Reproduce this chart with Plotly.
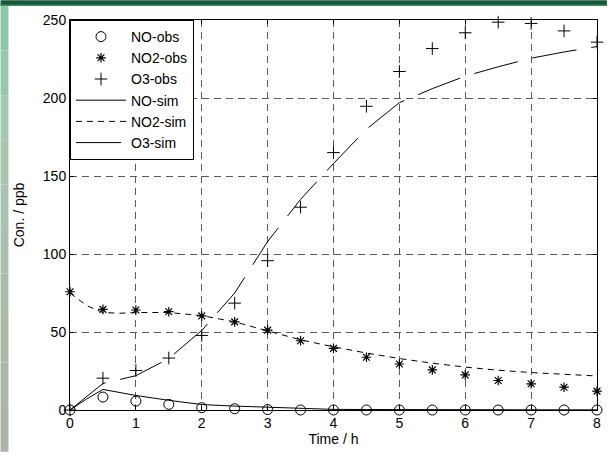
import plotly.graph_objects as go

# ---- data ----
t_obs = [0, 0.5, 1, 1.5, 2, 2.5, 3, 3.5, 4, 4.5, 5, 5.5, 6, 6.5, 7, 7.5, 8]
no_obs = [0, 8.3, 5.7, 3.6, 1.5, 0.8, 0.3, 0, 0, 0, 0, 0, 0, 0, 0, 0, 0]
no2_obs = [75.8, 64.5, 64.1, 63.0, 60.3, 56.5, 51.2, 44.4, 39.5, 33.8, 29.5, 25.7, 22.5, 18.9, 16.8, 14.6, 12.1]
o3_obs = [0, 20.4, 25.3, 33.3, 47.8, 68.5, 95.7, 130, 165, 194.7, 217, 231.7, 241.8, 248.6, 247.8, 243, 235.8]

t_sim = [0, 0.25, 0.5, 0.75, 1, 1.5, 2, 2.5, 3, 3.5, 4, 4.5, 5, 5.5, 6, 6.5, 7, 7.5, 8]
no_sim = [0, 7, 13.2, 11.2, 9.3, 6.2, 3.5, 2.5, 1.8, 0.8, 0.4, 0.3, 0.2, 0.15, 0.1, 0.1, 0.1, 0.1, 0.1]
no2_sim = [75, 67, 62.5, 62, 62.5, 62.5, 60.5, 56.5, 50.7, 45, 40.5, 36.5, 33, 30, 27.5, 25.5, 24, 22.8, 21.8]
o3_sim = [0, 8.5, 17, 19.5, 22, 33, 51, 75, 108, 135, 158, 180, 197, 206, 214, 220, 225.5, 229.5, 233]

x_ticks = [0, 1, 2, 3, 4, 5, 6, 7, 8]
y_ticks = [0, 50, 100, 150, 200, 250]

FONT = "Liberation Sans, Arial, sans-serif"

fig = go.Figure()
fig.add_trace(go.Scatter(x=t_obs, y=no_obs, mode="markers", name="NO-obs",
                         marker=dict(symbol="circle-open", size=10, color="black", line=dict(width=1, color="black")),
                         cliponaxis=False))
fig.add_trace(go.Scatter(x=t_obs, y=no2_obs, mode="markers", name="NO2-obs",
                         marker=dict(symbol="asterisk-open", size=8, color="black", line=dict(width=1.2, color="black")),
                         cliponaxis=False))
fig.add_trace(go.Scatter(x=t_obs, y=o3_obs, mode="markers", name="O3-obs",
                         marker=dict(symbol="cross-thin-open", size=9, color="black", line=dict(width=1, color="black")),
                         cliponaxis=False))
fig.add_trace(go.Scatter(x=t_sim, y=no_sim, mode="lines", name="NO-sim",
                         line=dict(color="black", width=1), cliponaxis=False))
fig.add_trace(go.Scatter(x=t_sim, y=no2_sim, mode="lines", name="NO2-sim",
                         line=dict(color="black", width=1, dash="6px,5px"), cliponaxis=False))
fig.add_trace(go.Scatter(x=t_sim, y=o3_sim, mode="lines", name="O3-sim",
                         line=dict(color="black", width=1, dash="45px,15px"), cliponaxis=False))

L, R, T, B = 70, 10, 20, 42
W, H = 611, 455
pw = W - L - R
ph = H - T - B

shapes = []
# top dark green bar
shapes.append(dict(type="rect", xref="paper", yref="paper",
                   x0=-L / pw, x1=(W - L) / pw, y0=1 + (T - 6) / ph, y1=1 + T / ph,
                   fillcolor="#17583a", line=dict(width=0), layer="below"))
shapes.append(dict(type="rect", xref="paper", yref="paper",
                   x0=-L / pw, x1=(W - L) / pw, y0=1 + (T - 6) / ph, y1=1 + (T - 4.5) / ph,
                   fillcolor="#3b8a5e", line=dict(width=0), layer="below"))
# left strip gradient (green at top to grey at bottom)
cols = ["#8fc7a8", "#98c8ac", "#a0c9b0", "#a5c6b1", "#a8c3b1", "#aabfae", "#abbcac", "#acb9aa", "#adb6a9", "#adb3a8"]
n = len(cols)
for i, c in enumerate(cols):
    ytop = 6 + (H - 6) * i / n
    ybot = 6 + (H - 6) * (i + 1) / n
    shapes.append(dict(type="rect", xref="paper", yref="paper",
                       x0=-L / pw, x1=(8 - L) / pw,
                       y0=1 - (ybot - T) / ph, y1=1 - (ytop - T) / ph,
                       fillcolor=c, line=dict(width=0), layer="below"))

axis_common = dict(showline=True, mirror="ticks", linecolor="black", linewidth=1,
                   ticks="inside", ticklen=4, tickcolor="black",
                   showgrid=True, gridcolor="#5a5a5a", gridwidth=1, griddash="7px,5px",
                   zeroline=False, tickfont=dict(family=FONT, size=14, color="black"))

fig.update_layout(
    width=W, height=H,
    margin=dict(l=L, r=R, t=T, b=B),
    paper_bgcolor="white", plot_bgcolor="white",
    font=dict(family=FONT, size=14, color="black"),
    showlegend=True,
    legend=dict(x=0, y=1, xanchor="left", yanchor="top",
                bgcolor="white", bordercolor="black", borderwidth=1,
                font=dict(family=FONT, size=14, color="black"),
                itemwidth=50, tracegroupgap=0),
    xaxis=dict(range=[0, 8], tickvals=x_ticks, ticktext=[str(v) for v in x_ticks],
               title=dict(text="Time / h", font=dict(family=FONT, size=14), standoff=4),
               **axis_common),
    yaxis=dict(range=[0, 250], tickvals=y_ticks, ticktext=[str(v) for v in y_ticks],
               title=dict(text="Con. / ppb", font=dict(family=FONT, size=14), standoff=14),
               **axis_common),
    shapes=shapes,
)

fig.write_html("out.html")
